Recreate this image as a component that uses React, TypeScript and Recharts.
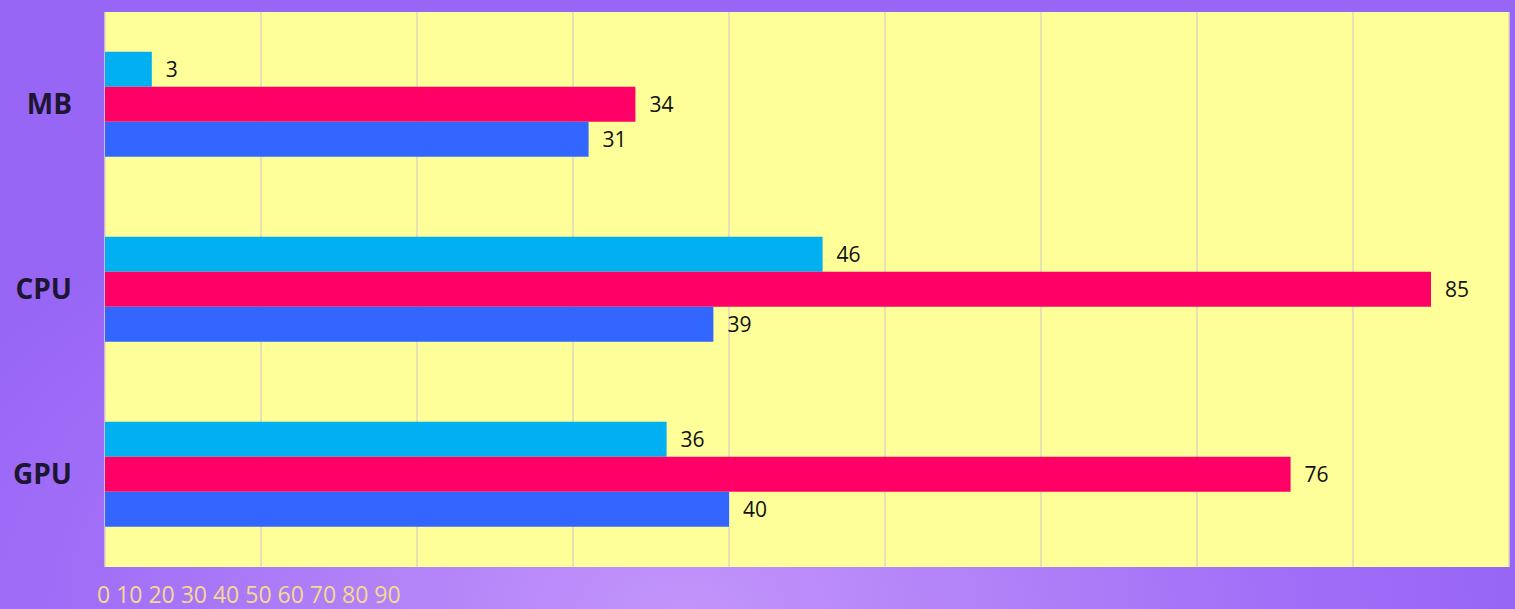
import React from "react";
import { BarChart, Bar, XAxis, YAxis, CartesianGrid, LabelList } from "recharts";

const categories = ["MB", "CPU", "GPU"];
const seriesA = [3, 46, 36];
const seriesB = [34, 85, 76];
const seriesC = [31, 39, 40];
const xTicks = [0, 10, 20, 30, 40, 50, 60, 70, 80, 90];

const data = categories.map((name, i) => ({ name, a: seriesA[i], b: seriesB[i], c: seriesC[i] }));

const FONT = "'Open Sans', 'DejaVu Sans', sans-serif";

const EmptyTick = () => <g />;

export default function App() {
  return (
    <div
      style={{
        position: "absolute",
        left: 0,
        top: 0,
        width: 1515,
        height: 609,
        overflow: "hidden",
        background:
          "radial-gradient(ellipse 55% 80% at 45% 100%, #c294fa 0%, #b080f8 40%, #9f6df7 75%, #9866f5 100%)",
        fontFamily: FONT,
      }}
    >
      <BarChart
        width={1515}
        height={609}
        data={data}
        layout="vertical"
        margin={{ top: 12, right: 6, bottom: 41, left: 0 }}
        barCategoryGap="21.5%"
        barGap={0}
      >
        <CartesianGrid horizontal={false} vertical={true} stroke="#dcd8bc" strokeWidth={1.5} fill="#ffff99" />
        <XAxis
          type="number"
          domain={[0, 90]}
          ticks={xTicks}
          interval={0}
          tick={<EmptyTick />}
          axisLine={false}
          tickLine={false}
          height={1}
        />
        <YAxis
          type="category"
          dataKey="name"
          width={105}
          axisLine={false}
          tickLine={false}
          tickSize={0}
          tickMargin={33}
          tick={{ fill: "#1c1633", fontSize: 28, fontWeight: 700, fontFamily: FONT }}
        />
        <Bar dataKey="a" fill="#00b0f0" isAnimationActive={false}>
          <LabelList dataKey="a" position="right" offset={14} fill="#111" fontSize={21} fontFamily={FONT} />
        </Bar>
        <Bar dataKey="b" fill="#ff0066" isAnimationActive={false}>
          <LabelList dataKey="b" position="right" offset={14} fill="#111" fontSize={21} fontFamily={FONT} />
        </Bar>
        <Bar dataKey="c" fill="#3366ff" isAnimationActive={false}>
          <LabelList dataKey="c" position="right" offset={14} fill="#111" fontSize={21} fontFamily={FONT} />
        </Bar>
      </BarChart>
      <div
        style={{
          position: "absolute",
          left: 97,
          top: 583,
          fontSize: 23,
          lineHeight: "23px",
          color: "#f6d98e",
          whiteSpace: "pre",
        }}
      >
        {xTicks.join(" ")}
      </div>
    </div>
  );
}
